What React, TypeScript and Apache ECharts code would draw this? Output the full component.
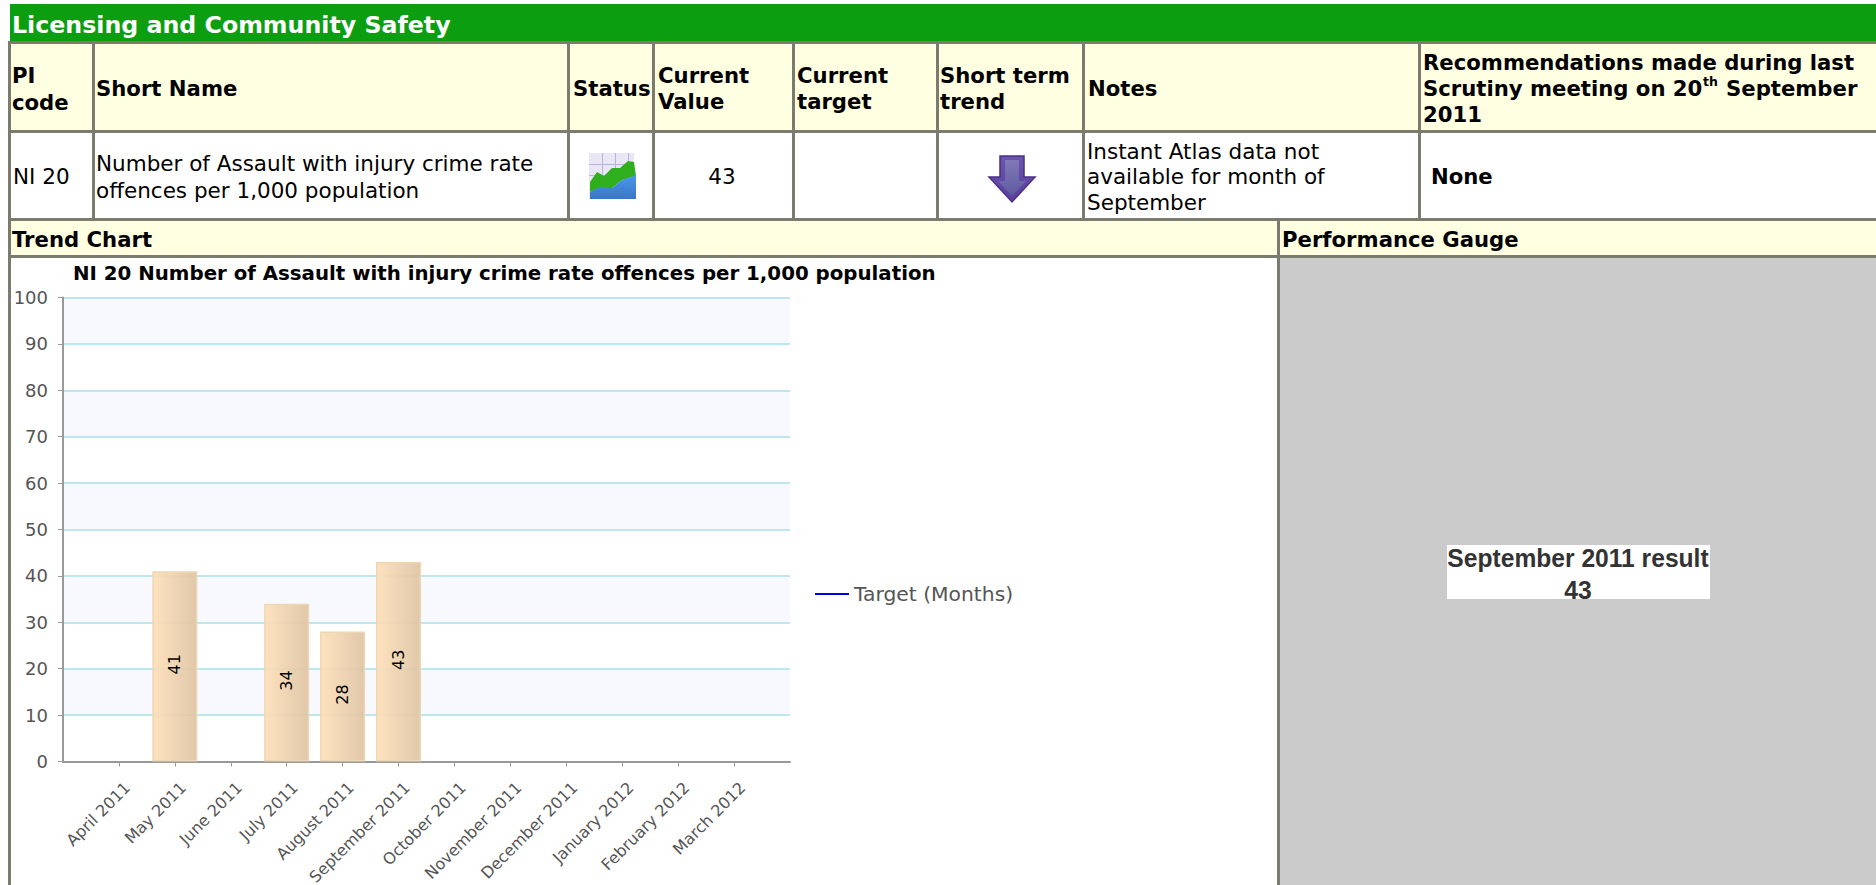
import React, { useEffect, useRef } from "react";
import * as echarts from "echarts";

const months = ["April 2011","May 2011","June 2011","July 2011","August 2011","September 2011","October 2011","November 2011","December 2011","January 2012","February 2012","March 2012"];
const values: (number | null)[] = [null,41,null,34,28,43,null,null,null,null,null,null];
const targetName = "Target (Months)";
const chartTitle = "NI 20 Number of Assault with injury crime rate offences per 1,000 population";
const sectionTitle = "Licensing and Community Safety";
const gaugeLabel = "September 2011 result";
const gaugeValue = "43";

const FONT = "DejaVu Sans";
const BORDER = "#7b7b70";
const CREAM = "#ffffe1";

// [text, x, centre y]
const headerTexts: [string, number, number][] = [
  ["PI",12,75],["code",12,102],["Short Name",96,88],["Status",573,88],["Current",658,75],["Value",658,101],
  ["Current",797,75],["target",797,101],["Short term",940,75],["trend",940,101],["Notes",1088,88],
  ["Recommendations made during last",1423,62],["Scrutiny meeting on 20",1423,88],["September",1726,88],["2011",1423,114],
  ["Trend Chart",12,239],["Performance Gauge",1282,239],
];
const bodyTexts: [string, number, number][] = [
  ["NI 20",13,176],["Number of Assault with injury crime rate",96,163],["offences per 1,000 population",96,190],
  ["Instant Atlas data not",1087,151],["available for month of",1087,176],["September",1087,202],
];

const rect = (x: number, y: number, w: number, h: number, fill: any) => ({ type: "rect", shape: { x, y, width: w, height: h }, style: { fill }, silent: true });
const text = (t: string, x: number, y: number, fontSize: number, fontWeight: string, extra: any = {}, scaleX = 1) => ({
  type: "text", x, y, scaleX, silent: true,
  style: { text: t, fontFamily: FONT, fontSize, fontWeight, fill: "#000", textAlign: "left", textVerticalAlign: "middle", ...extra },
});
const poly = (points: number[][], fill: any, extra: any = {}) => ({ type: "polygon", shape: { points }, style: { fill, ...extra }, silent: true });
const vGrad = (a: string, b: string) => new echarts.graphic.LinearGradient(0, 0, 0, 1, [{ offset: 0, color: a }, { offset: 1, color: b }]);
const hGrad = (a: string, b: string) => new echarts.graphic.LinearGradient(0, 0, 1, 0, [{ offset: 0, color: a }, { offset: 1, color: b }]);

function buildGraphic() {
  const els: any[] = [];
  els.push(rect(10, 4, 1866, 37, "#0a9e10"));
  els.push(rect(10, 43, 1866, 88, CREAM));
  els.push(rect(10, 220, 1866, 36, CREAM));
  els.push(rect(1280, 257, 596, 628, "#cbcbcb"));
  els.push(rect(1447, 545, 263, 54, "#ffffff"));
  // borders
  [[41, 3], [130, 3], [218, 3], [255, 3]].forEach(([y, h]) => els.push(rect(8, y, 1868, h, BORDER)));
  els.push(rect(8, 41, 3, 844, BORDER));
  [92, 567, 652, 792, 936, 1082, 1418].forEach((x) => els.push(rect(x, 43, 3, 176, BORDER)));
  els.push(rect(1277, 220, 3, 665, BORDER));

  els.push(text(sectionTitle, 12, 25, 23.7, "bold", { fill: "#ffffff" }));
  headerTexts.forEach(([t, x, y]) => els.push(text(t, x, y, 21.2, "bold")));
  els.push(text("th", 1703, 81, 12.5, "bold"));
  bodyTexts.forEach(([t, x, y]) => els.push(text(t, x, y, 21.5, "normal")));
  els.push(text("43", 722, 176, 21.5, "normal", { textAlign: "center" }));
  els.push(text("None", 1431, 176, 21.2, "bold"));
  const gaugeStyle = { textAlign: "center", fontFamily: "Liberation Sans", fill: "#333333" };
  els.push(text(gaugeLabel, 1578, 558, 25, "bold", gaugeStyle, 0.985));
  els.push(text(gaugeValue, 1578, 590, 25, "bold", gaugeStyle, 0.985));

  // status icon
  els.push(rect(589, 153, 45, 46, "#e9e6f6"));
  [602, 615, 628].forEach((x) => els.push(rect(x, 153, 1, 30, "#b8b4d8")));
  [164, 175].forEach((y) => els.push(rect(589, y, 45, 1, "#b8b4d8")));
  els.push(poly([[590,182],[597,172],[604,176],[612,168],[620,168],[628,161],[634,162],[636,176],[622,180],[612,188],[600,188],[590,192]], "#2fae1e"));
  els.push(poly([[590,192],[600,187],[612,188],[622,180],[636,175],[636,199],[590,199]], vGrad("#4a97ea", "#3a76c8")));
  // arrow icon
  els.push(poly([[1000,156],[1024,156],[1024,177],[1035,177],[1012,202],[989,177],[1000,177]], vGrad("#6a55ad", "#5a3f9c"), { stroke: "#4b3187", lineWidth: 1.5 }));
  els.push(poly([[1005,160],[1019,160],[1019,181],[1026,181],[1012,196],[998,181],[1005,181]], vGrad("#7f79b8", "#5f5aa0")));
  return els;
}

export default function App() {
  const ref = useRef<HTMLDivElement>(null);
  useEffect(() => {
    document.body.style.margin = "0";
    document.documentElement.style.overflow = "hidden";
    const chart = echarts.init(ref.current!, undefined, { renderer: "svg" });
    const cats = ["", ...months, ""];
    const pad = (a: (number | null)[]) => [null, ...a, null];
    chart.setOption({
      animation: false,
      backgroundColor: "#ffffff",
      title: { text: chartTitle, left: 73, top: 263, padding: 0, textStyle: { fontFamily: FONT, fontSize: 19.8, fontWeight: "bold", color: "#000" } },
      legend: {
        show: true, left: 815, top: 584, padding: 0, itemWidth: 34, itemHeight: 2, itemGap: 0, icon: "rect",
        data: [targetName],
        textStyle: { fontFamily: FONT, fontSize: 20.3, color: "#555" },
      },
      grid: { left: 63, top: 297.5, width: 727, height: 464, containLabel: false, outerBoundsMode: "none" },
      xAxis: {
        type: "category", data: cats, boundaryGap: false,
        axisLine: { lineStyle: { color: "#999", width: 2 } },
        axisTick: { show: true, length: 5, interval: (i: number) => i > 0 && i < cats.length - 1, lineStyle: { color: "#999", width: 1 } },
        axisLabel: { interval: 0, rotate: 45, fontFamily: FONT, fontSize: 16, color: "#555", margin: 15, verticalAlign: "top", lineHeight: 24 },
        splitLine: { show: false },
      },
      yAxis: {
        type: "value", min: 0, max: 100, interval: 10,
        axisLine: { show: true, lineStyle: { color: "#999", width: 2 } },
        axisTick: { show: true, length: 5, lineStyle: { color: "#999" } },
        axisLabel: { fontFamily: FONT, fontSize: 18, color: "#555", margin: 15 },
        splitLine: { show: true, lineStyle: { color: "#bce7ee", width: 2 } },
        splitArea: { show: true, areaStyle: { color: ["#ffffff", "#f8f9ff"] } },
      },
      series: [
        {
          type: "bar", name: "Value", data: pad(values), barWidth: 45, legendHoverLink: false,
          itemStyle: {
            color: hGrad("rgba(254,224,186,0.93)", "rgba(222,196,163,0.93)"),
            borderColor: "#eed6b2", borderWidth: 1.5,
          },
          label: { show: true, position: "inside", rotate: 90, fontFamily: FONT, fontSize: 16, color: "#000", offset: [2, 0] },
        },
        {
          type: "line", name: targetName, data: pad(months.map(() => null)), symbol: "none", showSymbol: false,
          lineStyle: { color: "#0000ee", width: 2 }, itemStyle: { color: "#0000ee" },
        },
      ],
      graphic: buildGraphic(),
    });
    return () => chart.dispose();
  }, []);
  return <div ref={ref} style={{ width: 1876, height: 885 }} />;
}
